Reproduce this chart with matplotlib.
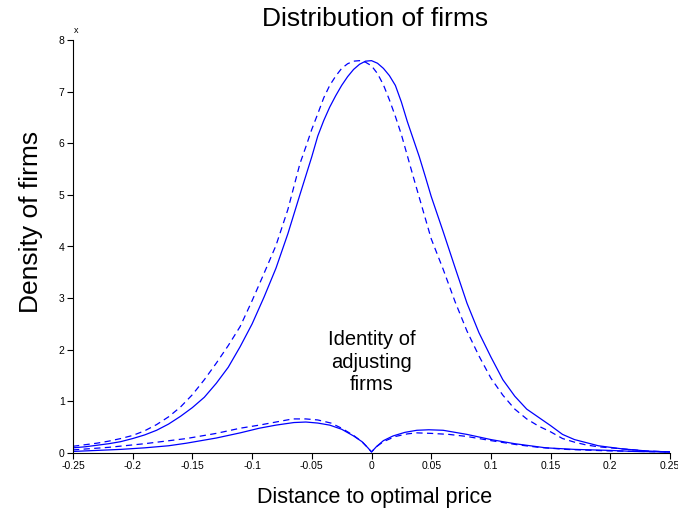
import numpy as np
import matplotlib
matplotlib.use("Agg")
import matplotlib.pyplot as plt

plt.rcParams['font.family'] = ['Liberation Sans', 'DejaVu Sans']

# Distance to optimal price (finer spacing around the peak)
x_main = ([round(-0.25 + 0.01 * i, 3) for i in range(20)]
          + [round(-0.055 + 0.005 * i, 3) for i in range(22)]
          + [round(0.06 + 0.01 * i, 3) for i in range(20)])

# Density of all firms (solid) and the alternative distribution (dashed)
density_solid = [0.10, 0.12, 0.15, 0.18, 0.22, 0.28, 0.35, 0.44, 0.56, 0.71,
                 0.88, 1.08, 1.35, 1.66, 2.06, 2.50, 3.02, 3.58, 4.25, 5.00,
                 5.37, 5.74, 6.14, 6.44, 6.70, 6.92, 7.12, 7.29, 7.43, 7.53,
                 7.59, 7.60, 7.55, 7.45, 7.31, 7.12, 6.80, 6.42, 6.08, 5.74,
                 5.36, 4.97,
                 4.29, 3.59, 2.90, 2.33, 1.86, 1.42, 1.10, 0.85, 0.69, 0.53,
                 0.36, 0.26, 0.20, 0.14, 0.11, 0.08, 0.06, 0.04, 0.03, 0.02]
density_dashed = [0.13, 0.16, 0.19, 0.23, 0.28, 0.34, 0.43, 0.55, 0.70, 0.89,
                  1.13, 1.42, 1.74, 2.08, 2.45, 2.95, 3.48, 4.02, 4.72, 5.60,
                  5.93, 6.27, 6.57, 6.88, 7.12, 7.30, 7.45, 7.54, 7.59, 7.60,
                  7.57, 7.50, 7.35, 7.13, 6.84, 6.52, 6.17, 5.76, 5.35, 4.95,
                  4.55, 4.15,
                  3.56, 2.93, 2.36, 1.88, 1.45, 1.12, 0.85, 0.66, 0.52, 0.41,
                  0.28, 0.21, 0.155, 0.12, 0.10, 0.08, 0.06, 0.04, 0.03, 0.02]

# Identity of adjusting firms
adj_x_solid = [-0.25, -0.23, -0.21, -0.19, -0.17, -0.155, -0.13, -0.11, -0.094,
               -0.08, -0.065, -0.055, -0.045, -0.035, -0.025, -0.015, -0.008,
               -0.003, 0.0, 0.004, 0.01, 0.018, 0.028, 0.038, 0.048, 0.06,
               0.08, 0.10, 0.12, 0.146, 0.17, 0.20, 0.22, 0.25]
adj_y_solid = [0.03, 0.05, 0.07, 0.10, 0.14, 0.19, 0.29, 0.39, 0.48,
               0.54, 0.59, 0.60, 0.58, 0.54, 0.46, 0.33, 0.22,
               0.10, 0.02, 0.12, 0.24, 0.33, 0.40, 0.44, 0.45, 0.44,
               0.36, 0.26, 0.18, 0.10, 0.07, 0.05, 0.03, 0.02]
adj_x_dashed = [-0.25, -0.22, -0.19, -0.155, -0.13, -0.11, -0.094, -0.08,
                -0.066, -0.055, -0.045, -0.034, -0.025, -0.015, -0.008, -0.003,
                0.0, 0.004, 0.01, 0.02, 0.03, 0.038, 0.05, 0.065, 0.08, 0.10,
                0.122, 0.14, 0.163, 0.20, 0.25]
adj_y_dashed = [0.06, 0.11, 0.18, 0.28, 0.38, 0.48, 0.54, 0.60,
                0.66, 0.66, 0.64, 0.58, 0.48, 0.34, 0.22, 0.10,
                0.02, 0.12, 0.22, 0.32, 0.37, 0.39, 0.38, 0.36, 0.32, 0.24,
                0.16, 0.11, 0.07, 0.04, 0.02]

x_ticks = [-0.25, -0.2, -0.15, -0.1, -0.05, 0, 0.05, 0.1, 0.15, 0.2, 0.25]
x_tick_labels = ['-0.25', '-0.2', '-0.15', '-0.1', '-0.05', '0', '0.05',
                 '0.1', '0.15', '0.2', '0.25']
y_ticks = [0, 1, 2, 3, 4, 5, 6, 7, 8]

fig = plt.figure(figsize=(6.78, 5.11), dpi=100)
ax = fig.add_axes([73 / 678, 1 - 453 / 511, 597 / 678, 413 / 511])

blue = '#0000ff'
ax.plot(x_main, density_solid, color=blue, lw=0.9)
ax.plot(x_main, density_dashed, color=blue, lw=0.9, dashes=(5, 3.5))
ax.plot(adj_x_solid, adj_y_solid, color=blue, lw=0.9)
ax.plot(adj_x_dashed, adj_y_dashed, color=blue, lw=0.9, dashes=(5, 3.5))

ax.set_xlim(-0.25, 0.25)
ax.set_ylim(0, 8)
ax.set_xticks(x_ticks)
ax.set_xticklabels(x_tick_labels)
ax.set_yticks(y_ticks)
ax.tick_params(direction='out', length=4, width=0.8, labelsize=7.5, pad=2)
for s in ['top', 'right']:
    ax.spines[s].set_visible(False)
for s in ['left', 'bottom']:
    ax.spines[s].set_linewidth(0.8)

fig.text(375 / 678, 1 - 19 / 511, 'Distribution of firms', fontsize=19,
         ha='center', va='center')
fig.text(375 / 678, 1 - 497 / 511, 'Distance to optimal price', fontsize=15.5,
         ha='center', va='center')
fig.text(31 / 678, 1 - 222 / 511, 'Density of firms', fontsize=19,
         ha='center', va='center', rotation=90)
ax.text(-0.249, 8.1, 'x', fontsize=6.5, ha='left', va='bottom')

ax.text(0.0, 1.76, 'Identity of\nadjusting\nfirms', fontsize=14.5,
        ha='center', va='center', linespacing=1.25)

fig.savefig('out.png', dpi=100)
